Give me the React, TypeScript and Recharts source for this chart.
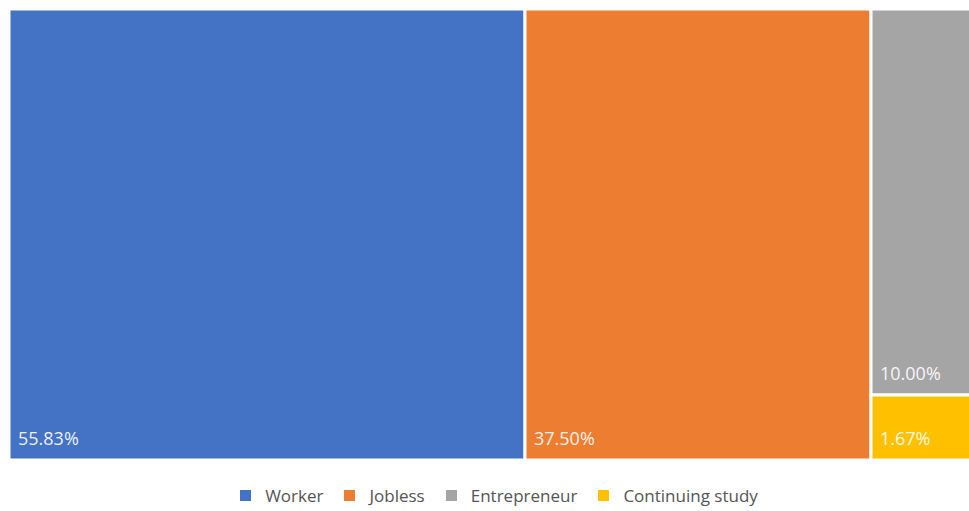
import { Treemap } from 'recharts';

const NAMES = ['Worker', 'Jobless', 'Entrepreneur', 'Continuing study'];
const VALUES = [55.83, 37.5, 10.0, 1.67];
const COLORS = ['#4472C4', '#ED7D31', '#A5A5A5', '#FFC000'];

const data = NAMES.map((name, i) => ({ name, size: VALUES[i], color: COLORS[i] }));

const Cell = (props: any) => {
  const { x, y, width, height, depth, value, color } = props;
  if (depth !== 1) return null;
  return (
    <g>
      <rect x={x} y={y} width={width} height={height} fill={color} stroke="#fff" strokeWidth={3} />
      <text
        x={x + 9}
        y={y + height - 15}
        fill="#fff"
        fillOpacity={0.92}
        fontSize={18}
        fontFamily="'Open Sans', sans-serif"
      >
        {Number(value).toFixed(2)}%
      </text>
    </g>
  );
};

export default function App() {
  return (
    <div
      style={{
        position: 'absolute',
        left: 0,
        top: 0,
        width: 969,
        height: 511,
        overflow: 'hidden',
        background: '#fff',
      }}
    >
      <div style={{ position: 'absolute', left: 9, top: 9 }}>
        <Treemap
          width={970}
          height={451}
          data={data}
          dataKey="size"
          nameKey="name"
          aspectRatio={1}
          isAnimationActive={false}
          content={<Cell />}
        />
      </div>
      <div
        style={{
          position: 'absolute',
          left: 0,
          top: 484,
          width: 998,
          display: 'flex',
          justifyContent: 'center',
          gap: 21,
          fontFamily: "'Open Sans', sans-serif",
          fontSize: 17,
          color: '#555555',
        }}
      >
        {NAMES.map((n, i) => (
          <div key={n} style={{ display: 'flex', alignItems: 'center' }}>
            <span style={{ width: 11, height: 11, background: COLORS[i], marginRight: 14 }} />
            <span>{n}</span>
          </div>
        ))}
      </div>
    </div>
  );
}
